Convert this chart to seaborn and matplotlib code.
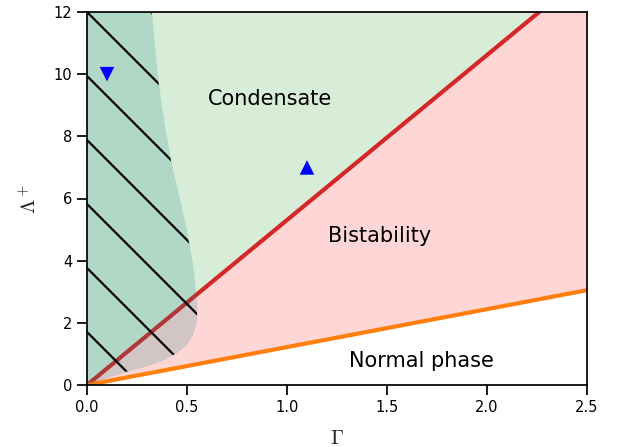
import numpy as np
import pandas as pd
import matplotlib
matplotlib.use("Agg")
import matplotlib.pyplot as plt
import seaborn as sns

# ---- data ----
gamma_line = [0.0, 2.5]
red_boundary = [0.0, 13.27]      # condensate / bistability boundary
orange_boundary = [0.0, 3.05]    # bistability / normal boundary

# left (hatched) region boundary, x as function of Lambda+
curve_y = [0.0, 0.15, 0.3, 0.4, 0.5, 0.64, 0.8, 1.0, 1.25, 1.5, 1.75, 2.0,
           2.25, 2.5, 3.0, 3.5, 4.0, 4.5, 5.0, 6.0, 7.0, 8.0, 9.0, 10.0,
           11.0, 12.0]
curve_x = [0.0, 0.06, 0.13, 0.18, 0.235, 0.31, 0.38, 0.44, 0.49, 0.518,
           0.535, 0.545, 0.55, 0.549, 0.543, 0.535, 0.525, 0.512, 0.498,
           0.462, 0.426, 0.397, 0.372, 0.352, 0.336, 0.323]

marker_x = [0.1, 1.1]
marker_y = [10.0, 7.0]
marker_kind = ["down", "up"]

labels = ["Condensate", "Bistability", "Normal phase"]
label_x = [0.915, 1.465, 1.67]
label_y = [9.2, 4.8, 0.77]

xticks = [0.0, 0.5, 1.0, 1.5, 2.0, 2.5]
yticks = [0, 2, 4, 6, 8, 10, 12]

sns.set_theme(style="ticks", rc={
    "axes.edgecolor": "black",
    "axes.linewidth": 1.25,
    "xtick.major.size": 7,
    "ytick.major.size": 7,
    "xtick.major.width": 1.25,
    "ytick.major.width": 1.25,
    "xtick.color": "black",
    "ytick.color": "black",
    "xtick.labelsize": 10.5,
    "ytick.labelsize": 10.5,
    "mathtext.fontset": "cm",
})
plt.rcParams["font.family"] = ["DejaVu Sans"]

fig = plt.figure(figsize=(6.24, 4.47), dpi=100)
ax = fig.add_axes([87 / 624, 1 - 385 / 447, 500 / 624, 373 / 447])

ymax = 12.0
# background regions
ax.fill_between(gamma_line, red_boundary, [ymax + 5, ymax + 5],
                color="tab:green", alpha=0.18, linewidth=0)
ax.fill_between(gamma_line, orange_boundary, red_boundary,
                color="red", alpha=0.16, linewidth=0)

df_lines = pd.DataFrame({
    "Gamma": gamma_line * 2,
    "Lambda": red_boundary + orange_boundary,
    "kind": ["red"] * 2 + ["orange"] * 2,
})
sns.lineplot(data=df_lines, x="Gamma", y="Lambda", hue="kind",
             palette={"red": "#d62728", "orange": "#ff7f0e"},
             linewidth=3, legend=False, ax=ax, zorder=3)

# hatched left region
teal = ax.fill_betweenx(curve_y, 0, curve_x, color=(0.05, 0.5, 0.5),
                        alpha=0.19, linewidth=0, zorder=4)
clip = teal.get_paths()[0]

# hatch lines at 45 degrees in display space (axes coords)
aw, ah = 500.0, 373.0
slope = aw / ah
spacing = 64.0 / ah
for k in range(-1, 12):
    y0 = 1.0 - k * spacing
    xs = np.array([0.0, 1.0])
    ys = y0 - slope * xs
    ln, = ax.plot(xs, ys, color="black", lw=1.6, transform=ax.transAxes,
                  zorder=5, solid_capstyle="butt")
    ln.set_clip_path(clip, ax.transData)

df_m = pd.DataFrame({"Gamma": marker_x, "Lambda": marker_y, "kind": marker_kind})
sns.scatterplot(data=df_m, x="Gamma", y="Lambda", style="kind",
                markers={"down": "v", "up": "^"}, color="blue", s=110,
                edgecolor="none", legend=False, ax=ax, zorder=6)

for t, x, y in zip(labels, label_x, label_y):
    ax.text(x, y, t, fontsize=15, ha="center", va="center", color="black",
            zorder=7)

ax.set_xlim(0, 2.5)
ax.set_ylim(0, 12)
ax.set_xticks(xticks)
ax.set_yticks(yticks)
ax.set_xticklabels([f"{v:.1f}" for v in xticks])
ax.set_yticklabels([str(v) for v in yticks])
ax.set_xlabel(r"$\Gamma$", fontsize=15, labelpad=10)
ax.set_ylabel(r"$\Lambda^+$", fontsize=15, labelpad=10)
for s in ax.spines.values():
    s.set_visible(True)
    s.set_zorder(10)

fig.savefig("out.png", dpi=100)
